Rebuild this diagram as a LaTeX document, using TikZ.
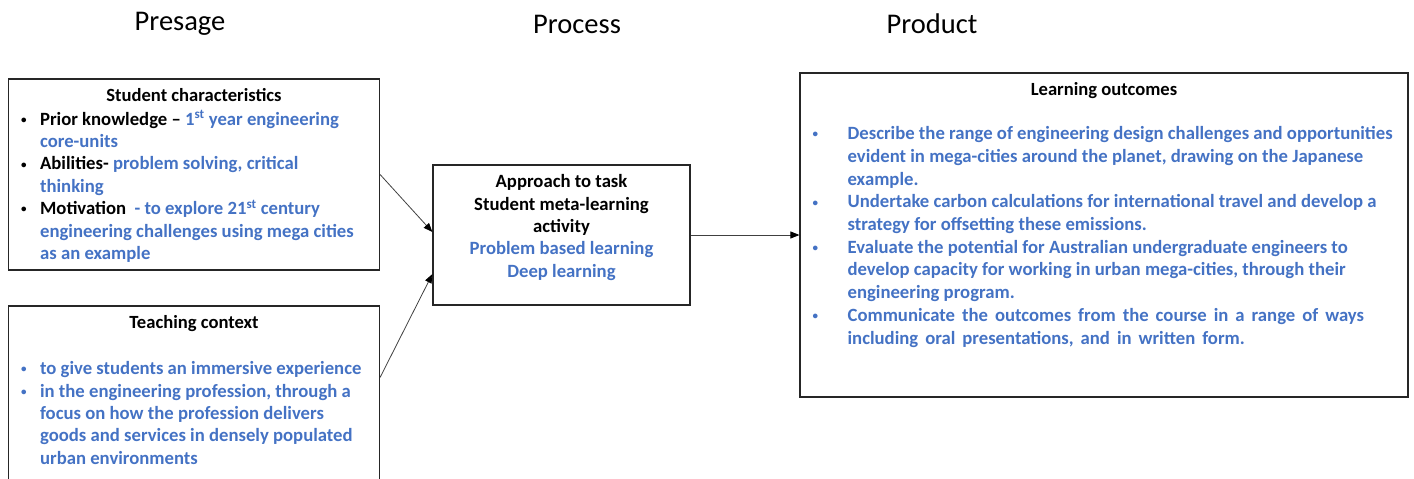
\documentclass[tikz,border=0pt]{standalone}
\usepackage{fontspec}
\setmainfont{Carlito}
\usetikzlibrary{arrows.meta,positioning}
\definecolor{obblue}{RGB}{68,114,196}
\newcommand{\bl}[1]{\textcolor{obblue}{#1}}
\newcommand{\wide}[1]{{\spaceskip=7pt\relax#1}}
\newcommand{\dotb}{\raisebox{1.8pt}{\fontsize{11}{11}\selectfont\textbullet}}
\newcommand{\itm}{\makebox[19pt][l]{\dotb}}
\newcommand{\itmb}{\makebox[35pt][l]{\dotb}}

\begin{document}
\begin{tikzpicture}[x=1pt,y=-1pt,
  box/.style={draw=black!85,line width=1.2pt,inner sep=0pt},
  hd/.style={font=\fontsize{18.6}{22.4}\selectfont\bfseries,inner sep=0pt,anchor=north},
  body/.style={font=\fontsize{18.7}{22.4}\selectfont\bfseries,inner sep=0pt,anchor=north west,align=left},
  stage/.style={font=\fontsize{28.5}{30}\selectfont,inner sep=0pt},
  link/.style={draw=black!75,line width=0.8pt,-{Triangle[length=9pt,width=7pt,color=black]}}]
  \useasboundingbox (0,0) rectangle (1414,479);
  % stages
  \node[stage] (presage) at (180,24) {Presage};
  \node[stage] (process) at (577,24) {Process};
  \node[stage] (product) at (932,24) {Product};
  % boxes
  \node[box,minimum width=371pt,minimum height=191pt] (stud) at (194,174.5) {};
  \node[box,minimum width=371pt,minimum height=190pt] (ctx) at (194,401) {}; % runs off the page
  \node[box,minimum width=257pt,minimum height=140pt] (app) at (561.5,235) {};
  \node[box,minimum width=608pt,minimum height=324pt] (out) at (1104,235) {};
  % presage
  \node[hd] (studhd) at ([yshift=-10pt]stud.north) {Student characteristics};
  \node[body] (studtxt) at ([xshift=13pt,yshift=-32pt]stud.north west) {%
    \itm Prior knowledge -- \bl{1\textsuperscript{st} year engineering}\\
    \hspace*{19pt}\bl{core-units}\\
    \itm Abilities- \bl{problem solving, critical}\\
    \hspace*{19pt}\bl{thinking}\\
    \itm Motivation\ \ \bl{- to explore 21\textsuperscript{st} century}\\
    \hspace*{19pt}\bl{engineering challenges using mega cities}\\
    \hspace*{19pt}\bl{as an example}};
  \node[hd] (ctxhd) at ([yshift=-10pt]ctx.north) {Teaching context};
  \node[body,text=obblue] (ctxtxt) at ([xshift=13pt,yshift=-56pt]ctx.north west) {%
    \itm to give students an immersive experience\\
    \itm in the engineering profession, through a\\
    \hspace*{19pt}focus on how the profession delivers\\
    \hspace*{19pt}goods and services in densely populated\\
    \hspace*{19pt}urban environments};
  % process
  \node[body,anchor=north,align=center] (apptxt) at ([yshift=-10pt]app.north) {%
    Approach to task\\
    Student meta-learning\\
    activity\\
    \bl{Problem based learning}\\
    \bl{Deep learning}};
  % product
  \node[hd] (outhd) at ([yshift=-10pt]out.north) {Learning outcomes};
  \node[body,text=obblue,font=\fontsize{18.7}{22.7}\selectfont\bfseries] (outtxt) at ([xshift=13pt,yshift=-54pt]out.north west) {%
    \itmb Describe the range of engineering design challenges and opportunities\\
    \hspace*{35pt}evident in mega-cities around the planet, drawing on the Japanese\\
    \hspace*{35pt}example.\\
    \itmb Undertake carbon calculations for international travel and develop a\\
    \hspace*{35pt}strategy for offsetting these emissions.\\
    \itmb Evaluate the potential for Australian undergraduate engineers to\\
    \hspace*{35pt}develop capacity for working in urban mega-cities, through their\\
    \hspace*{35pt}engineering program.\\
    \itmb \wide{Communicate the outcomes from the course in a range of ways}\\
    \hspace*{35pt}\wide{including oral presentations, and in written form.}};
  % connectors
  \draw[link] (stud.east) -- ([yshift=3pt]app.west);
  \draw[link] ([yshift=-72pt]ctx.north east) -- ([yshift=-39pt]app.west);
  \draw[link] (app.east) -- (out.west);
\end{tikzpicture}
\end{document}
